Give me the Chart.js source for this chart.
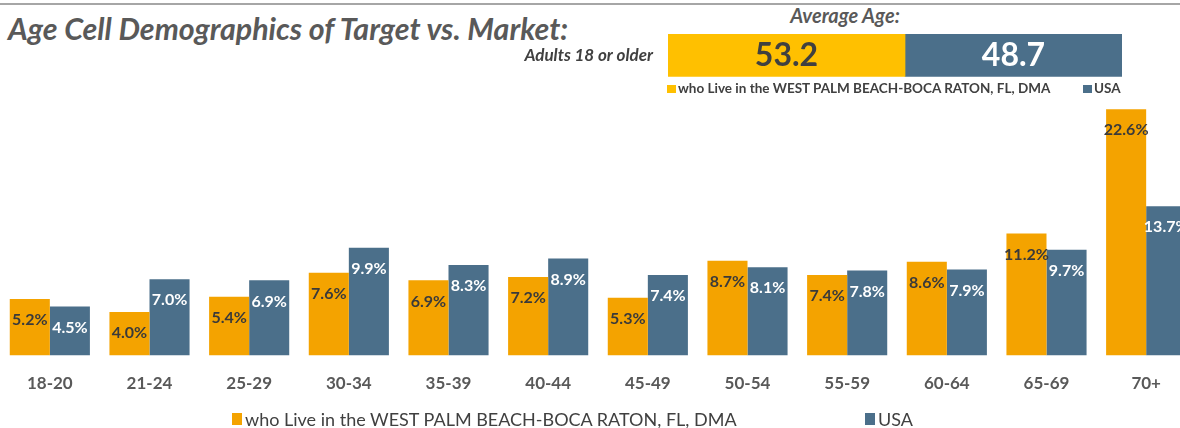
<!DOCTYPE html>
<html>
<head>
<meta charset="utf-8">
<title>Age Cell Demographics</title>
<script src="https://cdn.jsdelivr.net/npm/chart.js@4.4.1/dist/chart.umd.min.js"></script>
<style>
  html, body { margin: 0; padding: 0; width: 1180px; height: 428px; overflow: hidden; background: #fff; }
  body { position: relative; font-family: Lato, "Open Sans", sans-serif; }
  .topline { position: absolute; left: 0; top: 3px; width: 1180px; height: 2px; background: #a6a6a6; }
  .title { position: absolute; left: 8px; top: 13px; font: italic bold 30.4px/1 Lato, sans-serif; color: #595959; white-space: nowrap; }
  .avgTitle { position: absolute; left: 745px; width: 200px; top: 5px; text-align: center;
              font: italic bold 20px/1 Lato, sans-serif; color: #595959; white-space: nowrap; }
  #mainWrap { position: absolute; left: 0; top: 0; }
  #avgWrap { position: absolute; left: 510px; top: 0; }
  .lg { position: absolute; white-space: nowrap; color: #404040; }
  .lg i { position: absolute; display: block; }
  .lg span { position: absolute; top: 0; }
</style>
</head>
<body>
<div class="topline"></div>
<div class="title">Age Cell Demographics of Target vs. Market:</div>
<div class="avgTitle">Average Age:</div>
<div id="avgWrap"><canvas id="avgChart" width="670" height="102"></canvas></div>
<div id="mainWrap"><canvas id="mainChart" width="1196" height="412"></canvas></div>
<div id="avgLegend"></div>
<div id="mainLegend"></div>

<script>
// ---- data ----
const ageGroups = ['18-20', '21-24', '25-29', '30-34', '35-39', '40-44', '45-49', '50-54', '55-59', '60-64', '65-69', '70+'];
const palmBeachPct = [5.2, 4.0, 5.4, 7.6, 6.9, 7.2, 5.3, 8.7, 7.4, 8.6, 11.2, 22.6];
const usaPct = [4.5, 7.0, 6.9, 9.9, 8.3, 8.9, 7.4, 8.1, 7.8, 7.9, 9.7, 13.7];
const seriesNames = ['who Live in the WEST PALM BEACH-BOCA RATON, FL, DMA', 'USA'];

const avgCategory = ['Adults 18 or older'];
const avgPalmBeach = [53.2];
const avgUsa = [48.7];

// ---- colours ----
const orange = '#F4A300';
const gold = '#FFC000';
const slate = '#4B6F8A';
const darkText = '#404040';

// value labels drawn on the bars
function valueLabels(cfg) {
  return {
    id: 'valueLabels',
    afterDatasetsDraw(chart) {
      const ctx = chart.ctx;
      chart.data.datasets.forEach((ds, i) => {
        const meta = chart.getDatasetMeta(i);
        meta.data.forEach((bar, j) => {
          let x, y;
          if (cfg.center) {
            const c = bar.getCenterPoint();
            x = c.x; y = c.y;
          } else {
            x = bar.x; y = bar.y + cfg.offset;
          }
          ctx.save();
          ctx.font = cfg.font;
          ctx.fillStyle = cfg.colors[i];
          ctx.textAlign = 'center';
          ctx.textBaseline = 'middle';
          ctx.fillText(cfg.format(ds.data[j]), x, y);
          ctx.restore();
        });
      });
    }
  };
}

// =====================
// main grouped bars
// =====================
new Chart(document.getElementById('mainChart'), {
  type: 'bar',
  data: {
    labels: ageGroups,
    datasets: [
      { label: seriesNames[0], data: palmBeachPct, backgroundColor: orange },
      { label: seriesNames[1], data: usaPct, backgroundColor: slate }
    ]
  },
  options: {
    responsive: false,
    animation: false,
    layout: { padding: { top: 83, left: 0, right: 0, bottom: 0 } },
    datasets: { bar: { categoryPercentage: 0.804, barPercentage: 1 } },
    plugins: {
      legend: { display: false },
      tooltip: { enabled: false }
    },
    scales: {
      x: {
        grid: { display: false, drawTicks: false },
        border: { display: false },
        ticks: { color: '#595959', padding: 18, font: { family: 'Lato', weight: 'bold', size: 17 } }
      },
      y: { display: false, min: 0, max: 25 }
    }
  },
  plugins: [valueLabels({
    offset: 21,
    font: 'bold 16px Lato',
    colors: ['#3a3a3a', '#ffffff'],
    format: v => v.toFixed(1) + '%'
  })]
});

// =====================
// average age stacked bar
// (bottom 25px of this canvas is reserved by the axis label padding)
// =====================
new Chart(document.getElementById('avgChart'), {
  type: 'bar',
  data: {
    labels: avgCategory,
    datasets: [
      { label: seriesNames[0], data: avgPalmBeach, backgroundColor: gold },
      { label: seriesNames[1], data: avgUsa, backgroundColor: slate }
    ]
  },
  options: {
    indexAxis: 'y',
    responsive: false,
    animation: false,
    layout: { padding: { right: 58, left: 0, top: 34, bottom: 0 } },
    datasets: { bar: { categoryPercentage: 1, barPercentage: 1 } },
    plugins: {
      legend: { display: false },
      tooltip: { enabled: false }
    },
    scales: {
      x: { display: false, stacked: true, min: 0, max: avgPalmBeach[0] + avgUsa[0] },
      y: {
        stacked: true,
        grid: { display: false, drawTicks: false },
        border: { display: false },
        ticks: { color: darkText, padding: 15, font: { family: 'Lato', style: 'italic', weight: 'bold', size: 17 } },
        afterFit(s) { s.width = 158; }
      }
    }
  },
  plugins: [valueLabels({
    center: true,
    font: 'bold 32px Lato',
    colors: [darkText, '#ffffff'],
    format: v => v.toFixed(1)
  })]
});

// =====================
// legends (html)
// =====================
function legendRow(id, items, y, fontCss, box) {
  const host = document.getElementById(id);
  items.forEach(it => {
    const d = document.createElement('div');
    d.className = 'lg';
    d.style.left = it.boxX + 'px';
    d.style.top = y + 'px';
    d.style.font = fontCss;
    const i = document.createElement('i');
    i.style.background = it.color;
    i.style.width = box.w + 'px';
    i.style.height = box.h + 'px';
    i.style.left = '0px';
    i.style.top = (-box.h / 2) + 'px';
    const s = document.createElement('span');
    s.textContent = it.text;
    s.style.left = (it.textX - it.boxX) + 'px';
    s.style.lineHeight = '1';
    s.style.transform = 'translateY(-50%)';
    d.appendChild(i);
    d.appendChild(s);
    host.appendChild(d);
  });
}

legendRow('avgLegend', [
  { text: seriesNames[0], color: gold, boxX: 667, textX: 678 },
  { text: seriesNames[1], color: slate, boxX: 1083, textX: 1094 }
], 89, 'bold 13.5px Lato', { w: 9, h: 8 });

legendRow('mainLegend', [
  { text: seriesNames[0], color: orange, boxX: 232, textX: 245 },
  { text: seriesNames[1], color: slate, boxX: 865, textX: 878 }
], 419, '18px Lato', { w: 10, h: 12 });
</script>
</body>
</html>
